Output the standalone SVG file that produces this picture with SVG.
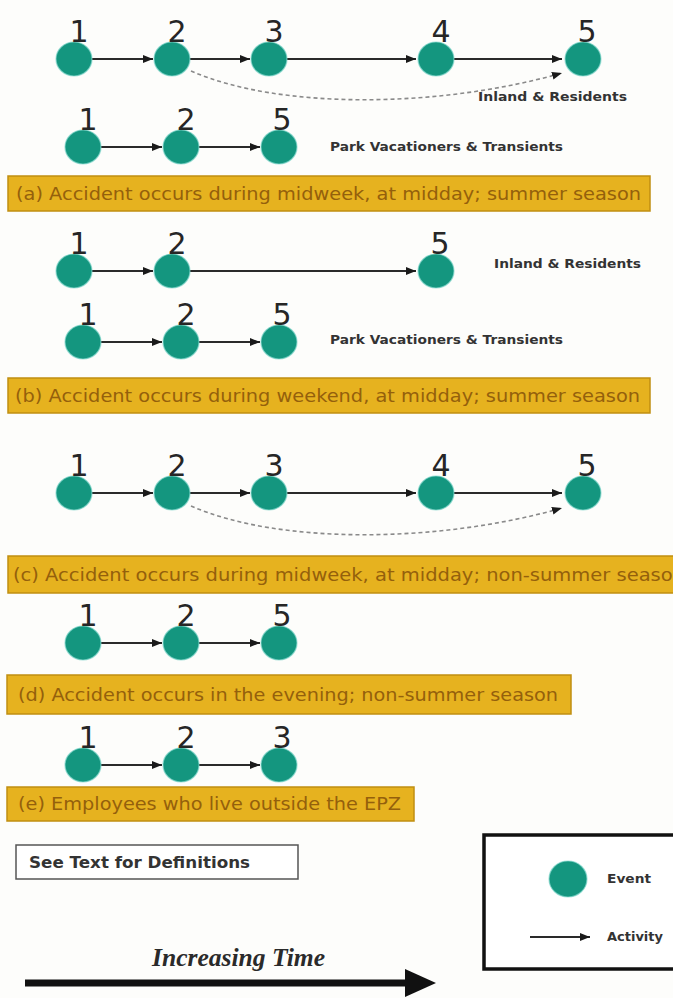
<svg xmlns="http://www.w3.org/2000/svg" width="673" height="998" viewBox="0 0 673 998">
  <defs>
    <marker id="arr" markerUnits="userSpaceOnUse" markerWidth="10" markerHeight="8" refX="10" refY="4" orient="auto">
      <path d="M0,0 L10,4 L0,8 z" fill="#1a1a1a"/>
    </marker>
    <style>
      .ev { fill: #14967f; stroke: #7fd6ca; stroke-width: 1.2; stroke-opacity: 0.7; }
      .num { font-family: "DejaVu Sans", "Liberation Sans", sans-serif; font-size: 30px; fill: #262626; text-anchor: middle; }
      .act { stroke: #2a2a2a; stroke-width: 2; fill: none; marker-end: url(#arr); }
      .alt { stroke: #8a8a8a; stroke-width: 1.6; stroke-dasharray: 4 3; fill: none; marker-end: url(#arr); }
      .grp { font-family: "DejaVu Sans", "Liberation Sans", sans-serif; font-weight: bold; font-size: 13px; fill: #333; }
      .band { fill: #e6b21f; stroke: #c08e12; stroke-width: 1.5; }
      .btxt { font-family: "DejaVu Sans", "Liberation Sans", sans-serif; font-size: 17px; fill: #94600c; }
      .leg { font-family: "DejaVu Sans", "Liberation Sans", sans-serif; font-weight: bold; font-size: 13px; fill: #333; }
      .note { font-family: "DejaVu Sans", "Liberation Sans", sans-serif; font-weight: bold; font-size: 16px; fill: #333; }
    </style>
  </defs>

  <rect x="0" y="0" width="673" height="998" fill="#fdfdfb"/>

  <!-- connectors -->
  <g id="connectors">
    <!-- (a) inland & residents -->
    <line class="act" x1="92" y1="59" x2="153" y2="59"/>
    <line class="act" x1="190" y1="59" x2="250" y2="59"/>
    <line class="act" x1="287" y1="59" x2="416" y2="59"/>
    <line class="act" x1="454" y1="59" x2="562" y2="59"/>
    <path class="alt" d="M191,71 C 280,110 440,108 562,73"/>
    <!-- (a) park vacationers -->
    <line class="act" x1="101" y1="147" x2="162" y2="147"/>
    <line class="act" x1="199" y1="147" x2="260" y2="147"/>
    <!-- (b) inland & residents -->
    <line class="act" x1="92" y1="271" x2="153" y2="271"/>
    <line class="act" x1="190" y1="271" x2="416" y2="271"/>
    <!-- (b) park vacationers -->
    <line class="act" x1="101" y1="342" x2="162" y2="342"/>
    <line class="act" x1="199" y1="342" x2="260" y2="342"/>
    <!-- (c) -->
    <line class="act" x1="92" y1="493" x2="153" y2="493"/>
    <line class="act" x1="190" y1="493" x2="250" y2="493"/>
    <line class="act" x1="287" y1="493" x2="416" y2="493"/>
    <line class="act" x1="454" y1="493" x2="562" y2="493"/>
    <path class="alt" d="M191,506 C 280,545 440,543 562,508"/>
    <!-- (d) -->
    <line class="act" x1="101" y1="643" x2="162" y2="643"/>
    <line class="act" x1="199" y1="643" x2="260" y2="643"/>
    <!-- (e) -->
    <line class="act" x1="101" y1="765" x2="162" y2="765"/>
    <line class="act" x1="199" y1="765" x2="260" y2="765"/>
  </g>

  <!-- (a) midweek, midday, summer -->
  <g id="a-inland-1"><ellipse class="ev" cx="74" cy="59" rx="18" ry="17"/><text class="num" x="79" y="42">1</text></g>
  <g id="a-inland-2"><ellipse class="ev" cx="172" cy="59" rx="18" ry="17"/><text class="num" x="177" y="42">2</text></g>
  <g id="a-inland-3"><ellipse class="ev" cx="269" cy="59" rx="18" ry="17"/><text class="num" x="274" y="42">3</text></g>
  <g id="a-inland-4"><ellipse class="ev" cx="436" cy="59" rx="18" ry="17"/><text class="num" x="441" y="42">4</text></g>
  <g id="a-inland-5"><ellipse class="ev" cx="583" cy="59" rx="18" ry="17"/><text class="num" x="587" y="42">5</text></g>
  <text class="grp" x="478" y="101" textLength="149" lengthAdjust="spacingAndGlyphs">Inland &amp; Residents</text>

  <g id="a-park-1"><ellipse class="ev" cx="83" cy="147" rx="18" ry="17"/><text class="num" x="88" y="130">1</text></g>
  <g id="a-park-2"><ellipse class="ev" cx="181" cy="147" rx="18" ry="17"/><text class="num" x="186" y="130">2</text></g>
  <g id="a-park-5"><ellipse class="ev" cx="279" cy="147" rx="18" ry="17"/><text class="num" x="282" y="130">5</text></g>
  <text class="grp" x="330" y="151" textLength="233" lengthAdjust="spacingAndGlyphs">Park Vacationers &amp; Transients</text>

  <g id="band-a">
    <rect class="band" x="8" y="176" width="642" height="35"/>
    <text class="btxt" x="16" y="200" textLength="625" lengthAdjust="spacingAndGlyphs">(a) Accident occurs during midweek, at midday; summer season</text>
  </g>

  <!-- (b) weekend, midday, summer -->
  <g id="b-inland-1"><ellipse class="ev" cx="74" cy="271" rx="18" ry="17"/><text class="num" x="79" y="254">1</text></g>
  <g id="b-inland-2"><ellipse class="ev" cx="172" cy="271" rx="18" ry="17"/><text class="num" x="177" y="254">2</text></g>
  <g id="b-inland-5"><ellipse class="ev" cx="436" cy="271" rx="18" ry="17"/><text class="num" x="440" y="254">5</text></g>
  <text class="grp" x="494" y="268" textLength="147" lengthAdjust="spacingAndGlyphs">Inland &amp; Residents</text>

  <g id="b-park-1"><ellipse class="ev" cx="83" cy="342" rx="18" ry="17"/><text class="num" x="88" y="325">1</text></g>
  <g id="b-park-2"><ellipse class="ev" cx="181" cy="342" rx="18" ry="17"/><text class="num" x="186" y="325">2</text></g>
  <g id="b-park-5"><ellipse class="ev" cx="279" cy="342" rx="18" ry="17"/><text class="num" x="282" y="325">5</text></g>
  <text class="grp" x="330" y="344" textLength="233" lengthAdjust="spacingAndGlyphs">Park Vacationers &amp; Transients</text>

  <g id="band-b">
    <rect class="band" x="8" y="378" width="642" height="35"/>
    <text class="btxt" x="15" y="402" textLength="625" lengthAdjust="spacingAndGlyphs">(b) Accident occurs during weekend, at midday; summer season</text>
  </g>

  <!-- (c) midweek, midday, non-summer -->
  <g id="c-1"><ellipse class="ev" cx="74" cy="493" rx="18" ry="17"/><text class="num" x="79" y="476">1</text></g>
  <g id="c-2"><ellipse class="ev" cx="172" cy="493" rx="18" ry="17"/><text class="num" x="177" y="476">2</text></g>
  <g id="c-3"><ellipse class="ev" cx="269" cy="493" rx="18" ry="17"/><text class="num" x="274" y="476">3</text></g>
  <g id="c-4"><ellipse class="ev" cx="436" cy="493" rx="18" ry="17"/><text class="num" x="441" y="476">4</text></g>
  <g id="c-5"><ellipse class="ev" cx="583" cy="493" rx="18" ry="17"/><text class="num" x="587" y="476">5</text></g>

  <g id="band-c">
    <rect class="band" x="8" y="556" width="690" height="37"/>
    <text class="btxt" x="13" y="581" textLength="672" lengthAdjust="spacingAndGlyphs">(c) Accident occurs during midweek, at midday; non-summer season</text>
  </g>

  <!-- (d) evening, non-summer -->
  <g id="d-1"><ellipse class="ev" cx="83" cy="643" rx="18" ry="17"/><text class="num" x="88" y="626">1</text></g>
  <g id="d-2"><ellipse class="ev" cx="181" cy="643" rx="18" ry="17"/><text class="num" x="186" y="626">2</text></g>
  <g id="d-5"><ellipse class="ev" cx="279" cy="643" rx="18" ry="17"/><text class="num" x="282" y="626">5</text></g>

  <g id="band-d">
    <rect class="band" x="7" y="675" width="564" height="39"/>
    <text class="btxt" x="18" y="701" textLength="540" lengthAdjust="spacingAndGlyphs">(d) Accident occurs in the evening; non-summer season</text>
  </g>

  <!-- (e) employees outside the EPZ -->
  <g id="e-1"><ellipse class="ev" cx="83" cy="765" rx="18" ry="17"/><text class="num" x="88" y="748">1</text></g>
  <g id="e-2"><ellipse class="ev" cx="181" cy="765" rx="18" ry="17"/><text class="num" x="186" y="748">2</text></g>
  <g id="e-3"><ellipse class="ev" cx="279" cy="765" rx="18" ry="17"/><text class="num" x="282" y="748">3</text></g>

  <g id="band-e">
    <rect class="band" x="7" y="787" width="407" height="34"/>
    <text class="btxt" x="18" y="810" textLength="383" lengthAdjust="spacingAndGlyphs">(e) Employees who live outside the EPZ</text>
  </g>

  <!-- note box -->
  <g id="note">
    <rect x="16" y="845" width="282" height="34" fill="#fff" stroke="#555" stroke-width="1.5"/>
    <text class="note" x="29" y="868" textLength="221" lengthAdjust="spacingAndGlyphs">See Text for Definitions</text>
  </g>

  <!-- legend -->
  <g id="legend">
    <rect x="484" y="835" width="210" height="134" fill="#fff" stroke="#111" stroke-width="3.5"/>
    <ellipse class="ev" cx="568" cy="879" rx="19" ry="18"/>
    <text class="leg" x="607" y="883" textLength="44" lengthAdjust="spacingAndGlyphs">Event</text>
    <line class="act" x1="530" y1="937" x2="590" y2="937"/>
    <text class="leg" x="607" y="941" textLength="56" lengthAdjust="spacingAndGlyphs">Activity</text>
  </g>

  <!-- time axis -->
  <g id="time-axis">
    <text x="152" y="966" font-family="Liberation Serif, serif" font-weight="bold" font-style="italic" font-size="25" fill="#2a2a2a" textLength="173" lengthAdjust="spacingAndGlyphs">Increasing Time</text>
    <line x1="25" y1="983" x2="408" y2="983" stroke="#111" stroke-width="7"/>
    <polygon points="405,969 436,983 405,997" fill="#111"/>
  </g>
</svg>
